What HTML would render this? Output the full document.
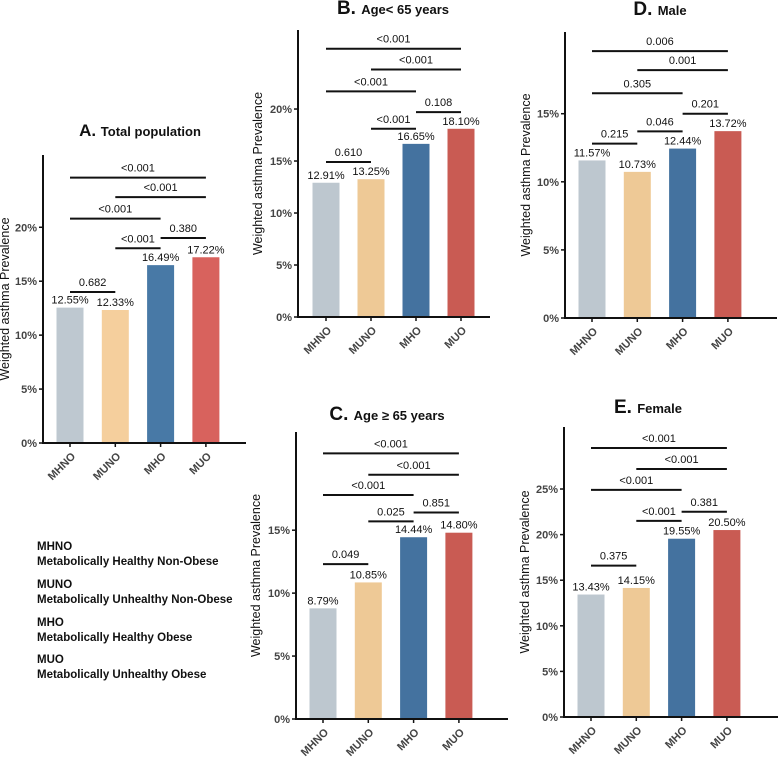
<!DOCTYPE html>
<html><head><meta charset="utf-8">
<style>
html,body{margin:0;padding:0;background:#fff;}
svg{display:block;font-family:"Liberation Sans",Arial,sans-serif;}
</style></head>
<body>
<svg id="chart" width="778" height="768" viewBox="0 0 778 768">
<g id="legend" font-size="11.5" font-weight="bold" fill="#111">
<text x="37" y="550">MHNO</text>
<text x="37" y="565">Metabolically Healthy Non-Obese</text>
<text x="37" y="588">MUNO</text>
<text x="37" y="603">Metabolically Unhealthy Non-Obese</text>
<text x="37" y="626">MHO</text>
<text x="37" y="641">Metabolically Healthy Obese</text>
<text x="37" y="663">MUO</text>
<text x="37" y="678">Metabolically Unhealthy Obese</text>
</g>
</svg>
<script>
const categories = ["MHNO","MUNO","MHO","MUO"];
const valuesA = [12.55,12.33,16.49,17.22];
const valuesB = [12.91,13.25,16.65,18.10];
const valuesC = [8.79,10.85,14.44,14.80];
const valuesD = [11.57,10.73,12.44,13.72];
const valuesE = [13.43,14.15,19.55,20.50];
const labelsA = ["12.55%","12.33%","16.49%","17.22%"];
const labelsB = ["12.91%","13.25%","16.65%","18.10%"];
const labelsC = ["8.79%","10.85%","14.44%","14.80%"];
const labelsD = ["11.57%","10.73%","12.44%","13.72%"];
const labelsE = ["13.43%","14.15%","19.55%","20.50%"];
const ticksA = [0,5,10,15,20];
const ticksB = [0,5,10,15,20];
const ticksC = [0,5,10,15];
const ticksD = [0,5,10,15];
const ticksE = [0,5,10,15,20,25];
// comparison brackets: [from index, to index, height (%), p-value]
const bracketsA = [[0,1,14.0,"0.682"],[1,2,18.05,"<0.001"],[2,3,19.0,"0.380"],[0,2,20.8,"<0.001"],[1,3,22.8,"<0.001"],[0,3,24.6,"<0.001"]];
const bracketsB = [[0,1,14.9,"0.610"],[1,2,18.1,"<0.001"],[2,3,19.7,"0.108"],[0,2,21.7,"<0.001"],[1,3,23.8,"<0.001"],[0,3,25.8,"<0.001"]];
const bracketsC = [[0,1,12.3,"0.049"],[1,2,15.7,"0.025"],[2,3,16.4,"0.851"],[0,2,17.8,"<0.001"],[1,3,19.4,"<0.001"],[0,3,21.1,"<0.001"]];
const bracketsD = [[0,1,12.8,"0.215"],[1,2,13.7,"0.046"],[2,3,15.0,"0.201"],[0,2,16.5,"0.305"],[1,3,18.2,"0.001"],[0,3,19.6,"0.006"]];
const bracketsE = [[0,1,16.6,"0.375"],[1,2,21.5,"<0.001"],[2,3,22.5,"0.381"],[0,2,24.9,"<0.001"],[1,3,27.2,"<0.001"],[0,3,29.5,"<0.001"]];

const NS = "http://www.w3.org/2000/svg";
const svg = document.getElementById("chart");
function mk(tag, attrs, parent){const e=document.createElementNS(NS,tag);for(const k in attrs)e.setAttribute(k,attrs[k]);parent.appendChild(e);return e;}

const panels = [
 {id:"a",letter:"A.",title:"Total population",big:true,ax:43,right:246,top:155,base:443,max:26.7,first:70,gap:45.3,tx:140,ty:136,yt:9,vals:valuesA,labs:labelsA,ticks:ticksA,br:bracketsA,colors:["#bec8d0","#f5cf9d","#4879a6","#d8625d"]},
 {id:"b",letter:"B.",title:"Age< 65 years",ax:298,right:490,top:30,base:317,max:27.6,first:326,gap:45,tx:393,ty:14,yt:262,vals:valuesB,labs:labelsB,ticks:ticksB,br:bracketsB,colors:["#bdc7cf","#eec996","#44729f","#c95b53"]},
 {id:"c",letter:"C.",title:"Age \u2265 65 years",ax:296,right:508,top:432,base:719,max:22.8,first:323,gap:45.3,tx:387,ty:420,yt:260,vals:valuesC,labs:labelsC,ticks:ticksC,br:bracketsC,colors:["#bdc7cf","#eec996","#44729f","#c95b53"]},
 {id:"d",letter:"D.",title:"Male",ax:565,right:777,top:32,base:318,max:21.0,first:592,gap:45.3,tx:660,ty:15,yt:530,vals:valuesD,labs:labelsD,ticks:ticksD,br:bracketsD,colors:["#bdc7cf","#eec996","#44729f","#c95b53"]},
 {id:"e",letter:"E.",title:"Female",ax:564,right:778,top:427,base:717,max:31.8,first:591,gap:45.3,tx:648,ty:413,yt:529,vals:valuesE,labs:labelsE,ticks:ticksE,br:bracketsE,colors:["#bdc7cf","#eec996","#44729f","#c95b53"]}
];

panels.forEach(p=>{
  const g = mk("g",{},svg);
  
  
  const y = v => p.base - v/p.max*(p.base-p.top);
  const x = i => p.first + i*p.gap;
  const bw = 27;
  // title
  const t = mk("text",{x:p.tx,y:p.ty,"text-anchor":"middle","font-weight":"bold",fill:"#111"},g);
  
  
  const s1 = mk("tspan",{"font-size":p.big?17:19},t); s1.textContent=p.letter+" ";
  const s2 = mk("tspan",{"font-size":13},t); s2.textContent=p.title;
  // bars
  p.vals.forEach((v,i)=>{
    const r = mk("rect",{x:x(i)-bw/2,y:y(v),width:bw,height:p.base-y(v),fill:p.colors[i]},g);
    
    
    const l = mk("text",{x:x(i),y:y(v)-4,"text-anchor":"middle","font-size":11,fill:"#111"},g);
    
    
    l.textContent = p.labs[i];
    const tk = mk("line",{x1:x(i),x2:x(i),y1:p.base,y2:p.base+4,stroke:"#111","stroke-width":1.5},g);
    
    
    const xl = mk("text",{x:0,y:0,"text-anchor":"end","font-size":11,"font-weight":"bold",fill:"#444",transform:`translate(${x(i)+6},${p.base+14}) rotate(-45)`},g);
    
    
    xl.textContent = categories[i];
  });
  // axes
  const ya = mk("line",{x1:p.ax,x2:p.ax,y1:p.top,y2:p.base+1,stroke:"#111","stroke-width":2},g);
  
  
  const xa = mk("line",{x1:p.ax-1,x2:p.right,y1:p.base,y2:p.base,stroke:"#111","stroke-width":2},g);
  
  
  p.ticks.forEach(tv=>{
    const tl = mk("line",{x1:p.ax-4,x2:p.ax,y1:y(tv),y2:y(tv),stroke:"#111","stroke-width":1.5},g);
    
    
    const tt = mk("text",{x:p.ax-6,y:y(tv)+4,"text-anchor":"end","font-size":11,"font-weight":"bold",fill:"#444"},g);
    
    
    tt.textContent = tv+"%";
  });
  const yc = (p.top+p.base)/2;
  const yt = mk("text",{x:0,y:0,"text-anchor":"middle","font-size":12.5,fill:"#111",transform:`translate(${p.yt},${yc}) rotate(-90)`},g);
  
  
  yt.textContent = "Weighted asthma Prevalence";
  // brackets
  p.br.forEach(b=>{
    const by = y(b[2]);
    const bl = mk("line",{x1:x(b[0]),x2:x(b[1]),y1:by,y2:by,stroke:"#111","stroke-width":2},g);
    
    
    const bt = mk("text",{x:(x(b[0])+x(b[1]))/2,y:by-6,"text-anchor":"middle","font-size":11,fill:"#111"},g);
    
    
    bt.textContent = b[3];
  });
});
</script>
</body></html>
